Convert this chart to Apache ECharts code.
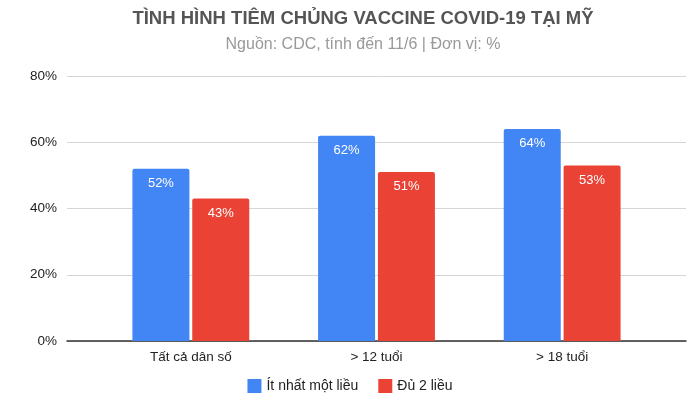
<!DOCTYPE html>
<html>
<head>
<meta charset="utf-8">
<script src="https://cdn.jsdelivr.net/npm/echarts@6/dist/echarts.min.js"></script>
<style>
  html, body { margin: 0; padding: 0; background: #fff; }
  #chart { width: 700px; height: 401px; }
</style>
</head>
<body>
<div id="chart"></div>
<script>
// dữ liệu
const categories = ['Tất cả dân số', '> 12 tuổi', '> 18 tuổi'];
const atLeastOne = [52, 62, 64];   // Ít nhất một liều
const fullyDosed = [43, 51, 53];   // Đủ 2 liều
const seriesNames = ['Ít nhất một liều', 'Đủ 2 liều'];

const chart = echarts.init(document.getElementById('chart'));
const font = 'Liberation Sans, Arial, sans-serif';

const barLabel = {
    show: true,
    position: 'insideTop',
    distance: 8,
    color: '#fff',
    fontSize: 13,
    fontFamily: font,
    formatter: p => p.value + '%'
};

chart.setOption({
    animation: false,
    textStyle: { fontFamily: font },
    title: {
        text: 'TÌNH HÌNH TIÊM CHỦNG VACCINE COVID-19 TẠI MỸ',
        subtext: 'Nguồn: CDC, tính đến 11/6 | Đơn vị: %',
        left: 358,
        top: 4,
        textAlign: 'center',
        itemGap: 9,
        textStyle: { fontSize: 18.5, fontWeight: 'bold', color: '#555', fontFamily: font },
        subtextStyle: { fontSize: 16, color: '#999', fontFamily: font }
    },
    legend: {
        bottom: 3,
        left: 'center',
        itemWidth: 14,
        itemHeight: 14,
        itemGap: 20,
        icon: 'rect',
        data: seriesNames,
        textStyle: { fontSize: 14, color: '#222', fontFamily: font }
    },
    // lưới 0: đường kẻ ngang và nhãn trục tung; lưới 1: các cột
    grid: [
        { left: 67, right: 14, top: 76, bottom: 60 },
        { left: 98, right: 45, top: 76, bottom: 60 }
    ],
    xAxis: [
        {
            gridIndex: 0, type: 'category', data: categories,
            axisLine: { lineStyle: { color: '#333', width: 1.5 } },
            axisTick: { show: false }, axisLabel: { show: false }
        },
        {
            gridIndex: 1, type: 'category', data: categories,
            axisLine: { show: false }, axisTick: { show: false },
            axisLabel: { fontSize: 13.5, color: '#222', margin: 9, fontFamily: font }
        }
    ],
    yAxis: [
        {
            gridIndex: 0, type: 'value', min: 0, max: 80, interval: 20,
            axisLabel: { formatter: '{value}%', fontSize: 13.5, color: '#222', margin: 10, fontFamily: font },
            splitLine: { lineStyle: { color: '#d6d6d6' } },
            axisLine: { show: false }, axisTick: { show: false }
        },
        {
            gridIndex: 1, type: 'value', min: 0, max: 80, interval: 20,
            show: false, splitLine: { show: false }
        }
    ],
    series: [
        {
            name: seriesNames[0], type: 'bar', xAxisIndex: 1, yAxisIndex: 1,
            data: atLeastOne, barWidth: 57, barGap: '5%',
            itemStyle: { color: '#4285F4', borderRadius: [2, 2, 0, 0] },
            label: barLabel
        },
        {
            name: seriesNames[1], type: 'bar', xAxisIndex: 1, yAxisIndex: 1,
            data: fullyDosed, barWidth: 57,
            itemStyle: { color: '#EA4335', borderRadius: [2, 2, 0, 0] },
            label: barLabel
        }
    ]
});
</script>
</body>
</html>
